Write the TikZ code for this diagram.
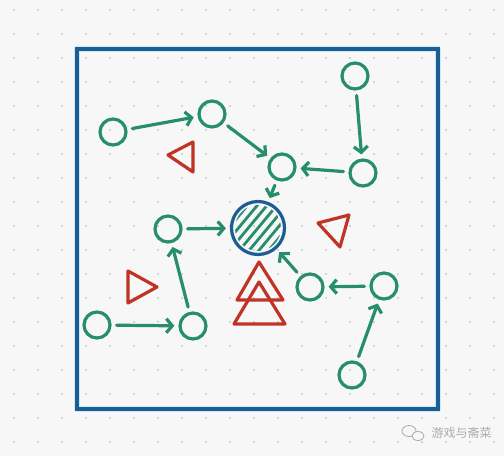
\documentclass[tikz,border=0pt]{standalone}
\usepackage{fontspec}
\newfontfamily\cjk{Noto Sans CJK SC}
\usetikzlibrary{arrows.meta}

\definecolor{grn}{RGB}{38,142,108}
\definecolor{rd}{RGB}{192,52,38}
\definecolor{blu}{RGB}{28,94,148}
\definecolor{bg}{RGB}{247,247,247}
\definecolor{dotc}{RGB}{200,200,200}
\definecolor{halo}{RGB}{196,236,250}
\definecolor{wm}{RGB}{170,170,170}

\begin{document}
\begin{tikzpicture}[x=1pt,y=-1pt,line cap=round,line join=round,
	>={Straight Barb[length=6pt,width=14pt]},
	pt/.style={circle,draw=grn,line width=3.2pt,minimum size=26pt,inner sep=0pt},
	hub/.style={circle,draw=blu,line width=3.2pt,minimum size=53pt,inner sep=0pt},
	link/.style={->,draw=grn,line width=3.2pt,shorten <=5pt,shorten >=4pt},
	tri/.style={draw=rd,line width=3.2pt}]

% paper with dot grid
\fill[bg] (0,0) rectangle (504,456);
\foreach \i in {0,...,20}
	\foreach \j in {0,...,18}
		\fill[dotc] ({14+24*\i},{10+24*\j}) circle[radius=1.2];

% frame
\draw[halo,line width=6.5pt] (77,49) rectangle (438,409);
\draw[blu,line width=3.2pt,line cap=butt,line join=miter] (77,49) rectangle (438,409);

% hatched hub
\begin{scope}
\clip (258,228) circle[radius=23];
\foreach \k in {-4,...,4}
	\draw[grn,line width=2.8pt] ({258+7.5*\k*0.77-40*0.64},{228+7.5*\k*0.64+40*0.77})
		-- ({258+7.5*\k*0.77+40*0.64},{228+7.5*\k*0.64-40*0.77});
\end{scope}
\node[hub] (hub) at (258,228) {};

% small circles
\node[pt] (a) at (113,132) {};
\node[pt] (b) at (212,114) {};
\node[pt] (c) at (282,167) {};
\node[pt] (d) at (355,76) {};
\node[pt] (e) at (363,173) {};
\node[pt] (f) at (168,229) {};
\node[pt] (g) at (193,326) {};
\node[pt] (h) at (97,325) {};
\node[pt] (k) at (310,287) {};
\node[pt] (l) at (384,286) {};
\node[pt] (m) at (352,375) {};

% arrows
\draw[link] (a) -- (b);
\draw[link] (b) -- (c);
\draw[link] (d) -- (e);
\draw[link] (e) -- (c);
\draw[link] (c) -- (hub);
\draw[link] (f) -- (hub);
\draw[link] (g) -- (f);
\draw[link] (h) -- (g);
\draw[link] (k) -- (hub);
\draw[link] (l) -- (k);
\draw[link] (m) -- (l);

% triangles
\draw[tri] (168,155) -- (193,142) -- (193,172) -- cycle;
\draw[tri] (318,223) -- (349,215) -- (340,247) -- cycle;
\draw[tri] (128,271) -- (157,287) -- (128,303) -- cycle;
\draw[tri] (259,262) -- (283,300) -- (237,300) -- cycle;
\draw[tri] (259,282) -- (285,324) -- (234,324) -- cycle;

% watermark
\draw[wm,line width=0.8pt] (409,431) ellipse[x radius=7,y radius=5.5];
\draw[wm,line width=0.8pt,fill=bg] (418,436) ellipse[x radius=6,y radius=4.5];
\node[wm,font=\cjk\fontsize{12}{12}\selectfont,anchor=west] (mark) at (428,433) {游戏与斋菜};

\end{tikzpicture}
\end{document}
